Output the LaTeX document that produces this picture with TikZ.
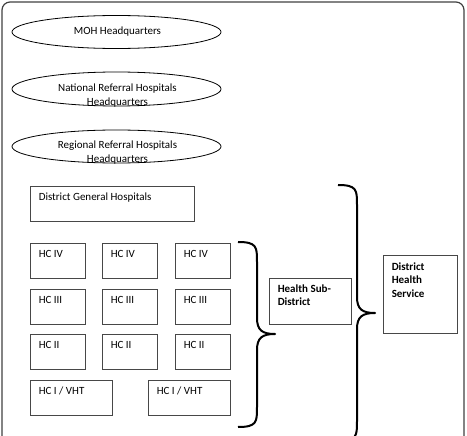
\documentclass[tikz,border=0pt]{standalone}
\usepackage{fontspec}
\setmainfont{Carlito}
\usetikzlibrary{shapes.geometric}
\begin{document}
\begin{tikzpicture}[x=1pt,y=-1pt,
  every node/.style={font=\fontsize{11}{13.5}\selectfont},
  box/.style={draw=black!72, line width=0.9pt, inner sep=0pt, minimum height=35pt},
  oval/.style={ellipse, draw=black, line width=0.8pt, inner sep=0pt, minimum width=209pt},
  lbl/.style={anchor=base west, inner sep=0pt, align=left},
  bracepath/.style={draw=black, line width=2pt, line join=round}]
\useasboundingbox (0,0) rectangle (467,436);
% outer frame
\draw[draw=black!75, line width=1.2pt, rounded corners=8pt] (2,450) -- (2,2) -- (464,2) -- (464,450);
% ellipses
\node[oval, minimum height=33pt] (moh) at (116.5,32) {};
\node (mohT) at (117.5,32) {MOH Headquarters};
\node[oval, minimum height=34pt] (nat) at (116.5,89) {};
\node[align=center, inner sep=0pt] (natT) at (117.5,95.5) {National Referral Hospitals\\Headquarters};
\node[oval, minimum height=33pt] (reg) at (116.5,146.5) {};
\node[align=center, inner sep=0pt] (regT) at (117.5,152.5) {Regional Referral Hospitals\\Headquarters};
% boxes
\node[box, minimum width=164pt] (dgh) at (112,203.5) {};
\node[lbl] (dghT) at ([shift={(9,14.5)}]dgh.north west) {District General Hospitals};
\foreach \r/\t/\y in {a/HC IV/260.5, b/HC III/306.5, c/HC II/352}{
  \foreach \c/\x in {1/57.5, 2/129.5, 3/202.5}{
    \node[box, minimum width=55pt] (hc\r\c) at (\x,\y) {};
    \node[lbl] (hc\r\c T) at ([shift={(9,14.5)}]hc\r\c.north west) {\t};
  }
}
\node[box, minimum width=82pt] (hcd1) at (71,398) {};
\node[lbl] (hcd1T) at ([shift={(9,14.5)}]hcd1.north west) {HC I / VHT};
\node[box, minimum width=82pt] (hcd2) at (189,398) {};
\node[lbl] (hcd2T) at ([shift={(9,14.5)}]hcd2.north west) {HC I / VHT};
\node[box, minimum width=82pt, minimum height=46pt] (hsd) at (310,301) {};
\node[lbl, font=\fontsize{11}{13.5}\selectfont\bfseries] (hsdT) at ([shift={(9,28)}]hsd.north west) {Health Sub-\\District};
\node[box, minimum width=74pt, minimum height=78pt] (dhs) at (420,294) {};
\node[lbl, font=\fontsize{11}{13.5}\selectfont\bfseries] (dhsT) at ([shift={(9,42.5)}]dhs.north west) {District\\Health\\Service};
% braces
\draw[bracepath] (238,242) .. controls (257,242) and (257,247) .. (257,262) -- (257,318)
  .. controls (257,330) and (262,334) .. (275,334)
  .. controls (262,334) and (257,338) .. (257,350) -- (257,407)
  .. controls (257,422) and (257,427) .. (238,427);
\draw[bracepath] (338,185) .. controls (357,185) and (357,190) .. (357,205) -- (357,297)
  .. controls (357,309) and (362,313) .. (375,313)
  .. controls (362,313) and (357,317) .. (357,329) -- (357,421)
  .. controls (357,436) and (357,441) .. (338,441);
\end{tikzpicture}
\end{document}
